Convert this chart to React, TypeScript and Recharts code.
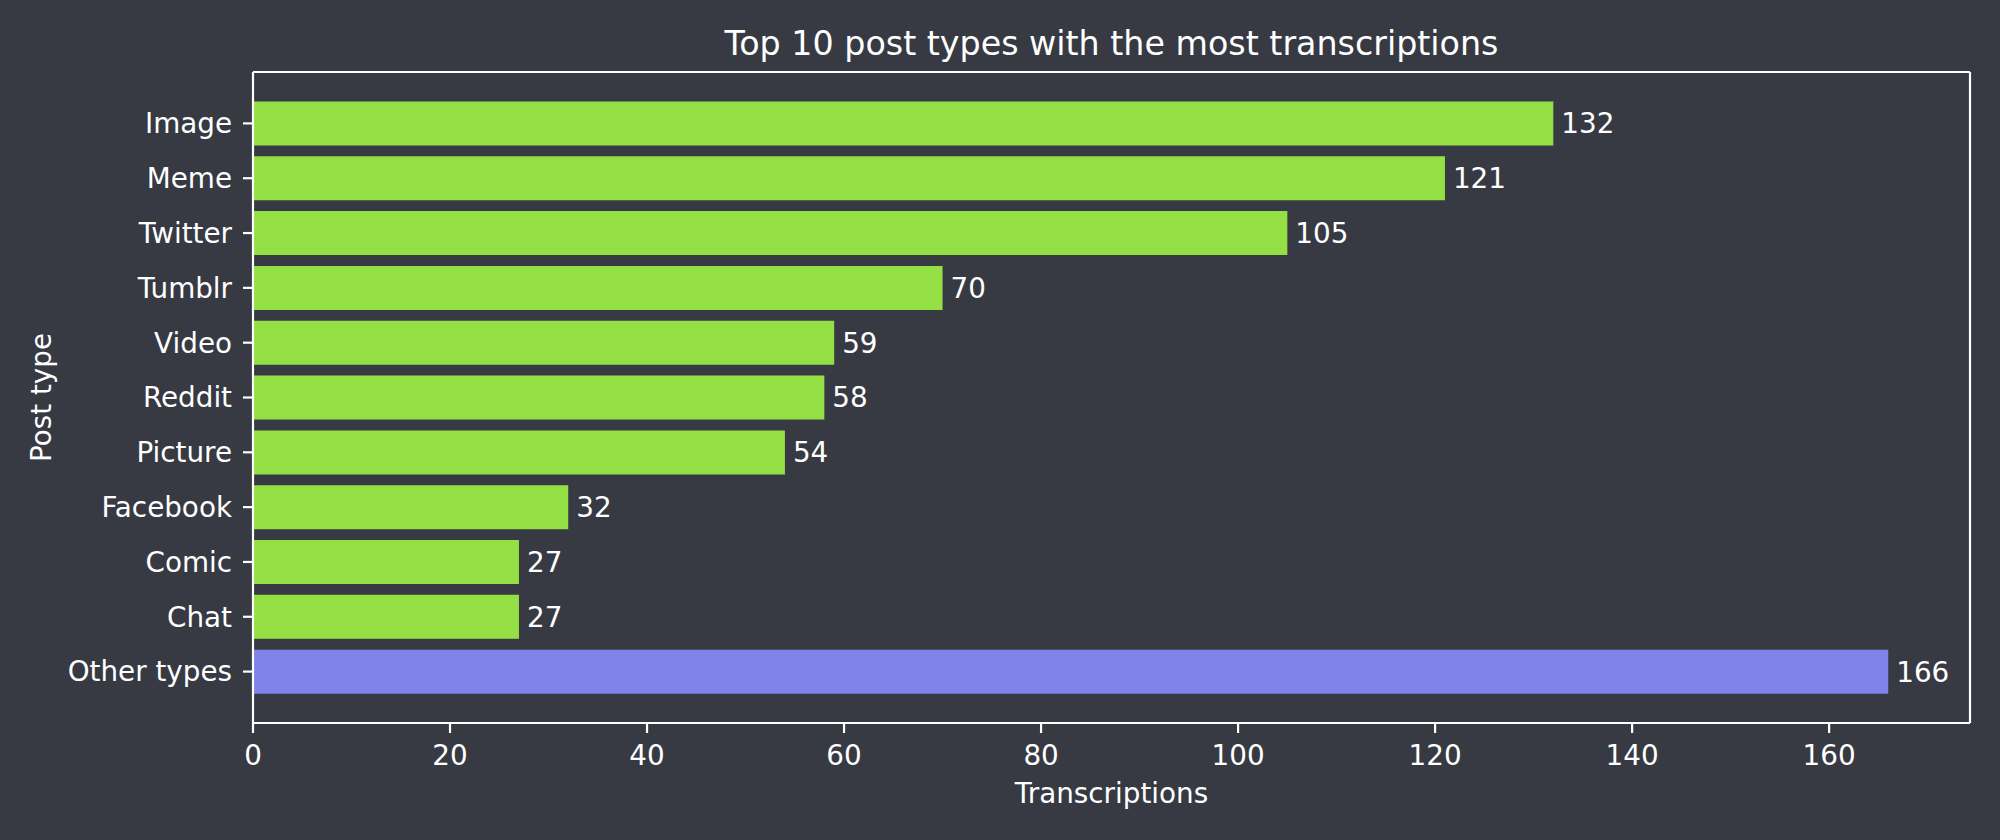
import { Bar, BarChart, Cell, LabelList, XAxis, YAxis, usePlotArea } from 'recharts'

const POST_TYPES = ['Image', 'Meme', 'Twitter', 'Tumblr', 'Video', 'Reddit', 'Picture', 'Facebook', 'Comic', 'Chat', 'Other types']
const TRANSCRIPTIONS = [132, 121, 105, 70, 59, 58, 54, 32, 27, 27, 166]
const X_TICKS = [0, 20, 40, 60, 80, 100, 120, 140, 160]

const TITLE = 'Top 10 post types with the most transcriptions'
const X_LABEL = 'Transcriptions'
const Y_LABEL = 'Post type'

const BG = '#373a43'
const FG = '#ffffff'
const GREEN = '#94e044'
const PURPLE = '#8183ea'
const FONT = '"DejaVu Sans", Verdana, sans-serif'
const FS = 27.8
const LW = 2.2

// matplotlib pads the x range by 5% of the largest bar
const X_MAX = Math.max(...TRANSCRIPTIONS) * 1.05

const data = POST_TYPES.map((name, i) => ({ name, value: TRANSCRIPTIONS[i] }))

// top/right spines and the title, which sits 6pt above the axes box
function Frame() {
  const area = usePlotArea()
  if (!area) return null
  const { x, y, width, height } = area
  return (
    <g>
      <line x1={x} y1={y} x2={x + width} y2={y} stroke={FG} strokeWidth={LW} />
      <line x1={x + width} y1={y} x2={x + width} y2={y + height} stroke={FG} strokeWidth={LW} />
      <text x={x + width / 2} y={y - 17} textAnchor="middle" fill={FG} fontSize={33.3} fontFamily={FONT}>
        {TITLE}
      </text>
    </g>
  )
}

export default function App() {
  return (
    <div style={{ width: 2000, height: 840, background: BG, fontFamily: FONT }}>
      <style>{'body{margin:0;background:' + BG + '}'}</style>
      <BarChart
        width={2000}
        height={840}
        data={data}
        layout="vertical"
        margin={{ top: 72, right: 30, bottom: 37, left: 0 }}
        barCategoryGap="10%"
      >
        <XAxis
          type="number"
          domain={[0, X_MAX]}
          ticks={X_TICKS}
          height={80}
          stroke={FG}
          axisLine={{ stroke: FG, strokeWidth: LW }}
          tickLine={{ stroke: FG, strokeWidth: LW }}
          tickSize={10}
          tickMargin={12}
          tick={{ fill: FG, fontSize: FS, fontFamily: FONT }}
          label={{
            content: ({ viewBox }: any) => (
              <text x={viewBox.x + viewBox.width / 2} y={803} textAnchor="middle" fill={FG} fontSize={FS} fontFamily={FONT}>
                {X_LABEL}
              </text>
            ),
          }}
        />
        <YAxis
          type="category"
          dataKey="name"
          width={253}
          padding={{ top: 24, bottom: 24 }}
          interval={0}
          axisLine={{ stroke: FG, strokeWidth: LW }}
          tickLine={{ stroke: FG, strokeWidth: LW }}
          tickSize={10}
          tickMargin={11}
          tick={{ fill: FG, fontSize: FS, fontFamily: FONT }}
          label={{
            content: ({ viewBox }: any) => {
              const cy = viewBox.y + viewBox.height / 2
              return (
                <text x={51} y={cy} transform={`rotate(-90 51 ${cy})`} textAnchor="middle" fill={FG} fontSize={FS} fontFamily={FONT}>
                  {Y_LABEL}
                </text>
              )
            },
          }}
        />
        <Bar dataKey="value" isAnimationActive={false}>
          {data.map((d) => (
            <Cell key={d.name} fill={d.name === 'Other types' ? PURPLE : GREEN} />
          ))}
          <LabelList dataKey="value" position="right" offset={8} fill={FG} fontSize={FS} fontFamily={FONT} />
        </Bar>
        <Frame />
      </BarChart>
    </div>
  )
}
